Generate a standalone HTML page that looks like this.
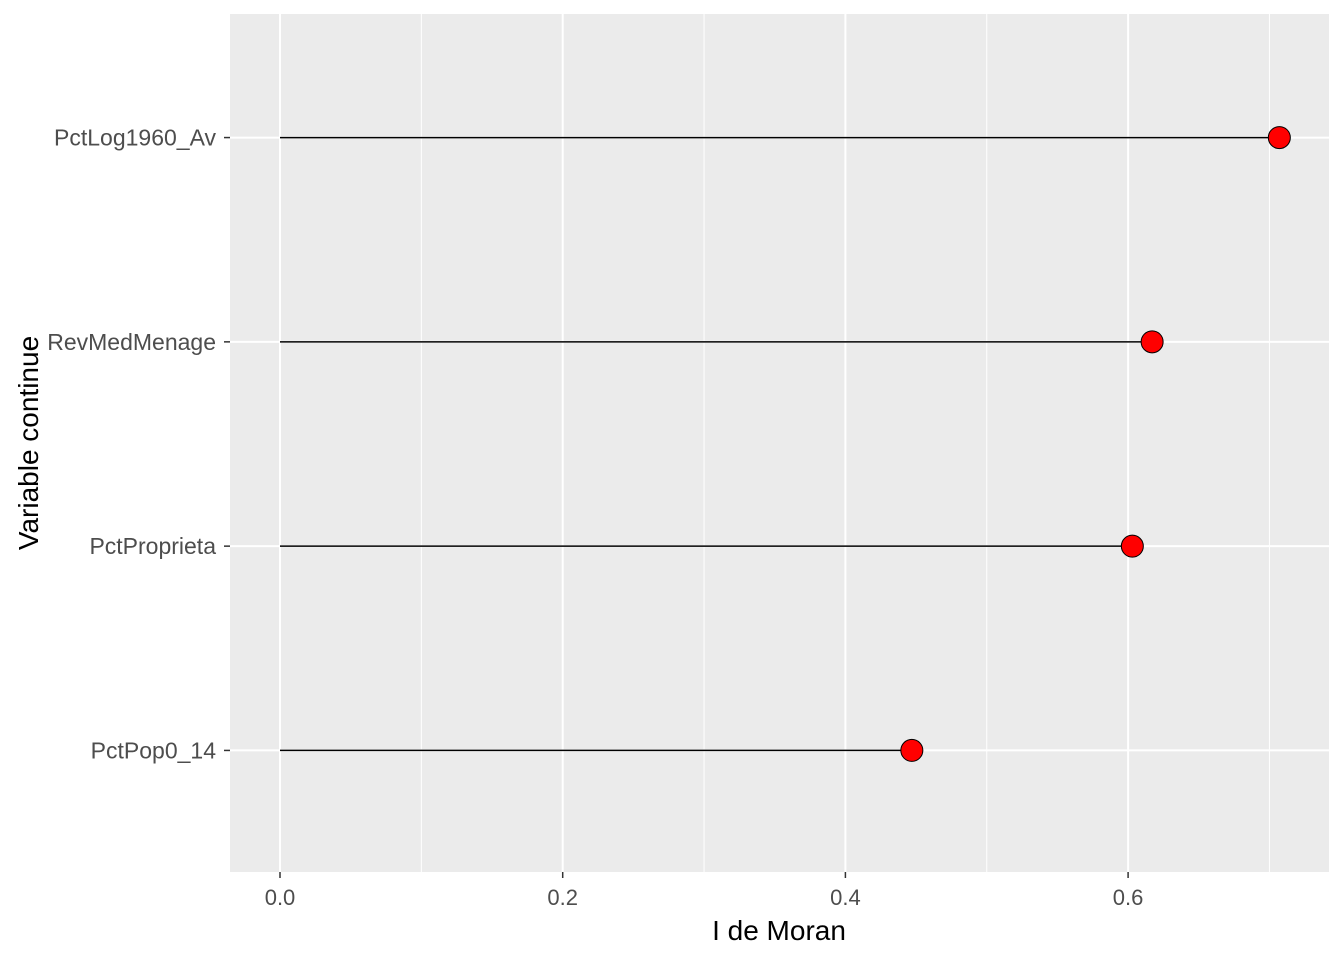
<!DOCTYPE html>
<html><head><meta charset="utf-8"><style>
body{margin:0;background:#fff}
svg text{font-family:"Liberation Sans",Arial,sans-serif}
</style></head><body>
<svg id="chart" width="1344" height="960" xmlns="http://www.w3.org/2000/svg">
<rect x="230" y="14" width="1099" height="858" fill="#ebebeb"/>
<g id="grid"></g><g id="marks"></g><g id="axes"></g>
<text x="779" y="940" font-size="28" text-anchor="middle" fill="#000">I de Moran</text>
<text transform="translate(38,443) rotate(-90)" font-size="28" text-anchor="middle" fill="#000">Variable continue</text>
</svg>
<script>
const categories=["PctPop0_14","PctProprieta","RevMedMenage","PctLog1960_Av"];
const values=[0.447,0.603,0.617,0.707];
const xTicks=[0,0.2,0.4,0.6];
const xTickLabels=["0.0","0.2","0.4","0.6"];
const xMinor=[0.1,0.3,0.5,0.7];
const NS="http://www.w3.org/2000/svg";
const px0=230,px1=1329,py0=14,py1=872;
const xs=v=>280+v*1413.5;
const ys=i=>py1+1-(i+1-0.4)*(py1-py0)/4.2;
function mk(t,a,p){const e=document.createElementNS(NS,t);for(const k in a)e.setAttribute(k,a[k]);p.appendChild(e);return e;}
const grid=document.getElementById('grid'),marks=document.getElementById('marks'),axes=document.getElementById('axes');
xMinor.forEach(v=>{const l=mk('line',{x1:xs(v),x2:xs(v),y1:py0,y2:py1,stroke:'#fff','stroke-width':1},grid);

});
xTicks.forEach((v,i)=>{const l=mk('line',{x1:xs(v),x2:xs(v),y1:py0,y2:py1,stroke:'#fff','stroke-width':2},grid);


const t=mk('line',{x1:xs(v),x2:xs(v),y1:py1,y2:py1+6,stroke:'#333','stroke-width':1.5},axes);


const tx=mk('text',{x:xs(v),y:905,'font-size':22,'text-anchor':'middle',fill:'#4d4d4d'},axes);tx.textContent=xTickLabels[i];

});
categories.forEach((c,i)=>{const y=ys(i);
const g=mk('line',{x1:px0,x2:px1,y1:y,y2:y,stroke:'#fff','stroke-width':2},grid);


const t=mk('line',{x1:px0-6,x2:px0,y1:y,y2:y,stroke:'#333','stroke-width':1.5},axes);


const tx=mk('text',{x:216,y:y+8,'font-size':23,'text-anchor':'end',fill:'#4d4d4d'},axes);tx.textContent=c;


const s=mk('line',{x1:xs(0),x2:xs(values[i]),y1:y,y2:y,stroke:'#000','stroke-width':1.5},marks);


const p=mk('circle',{cx:xs(values[i]),cy:y,r:11,fill:'#ff0000',stroke:'#000','stroke-width':1},marks);

});
</script>
</body></html>
